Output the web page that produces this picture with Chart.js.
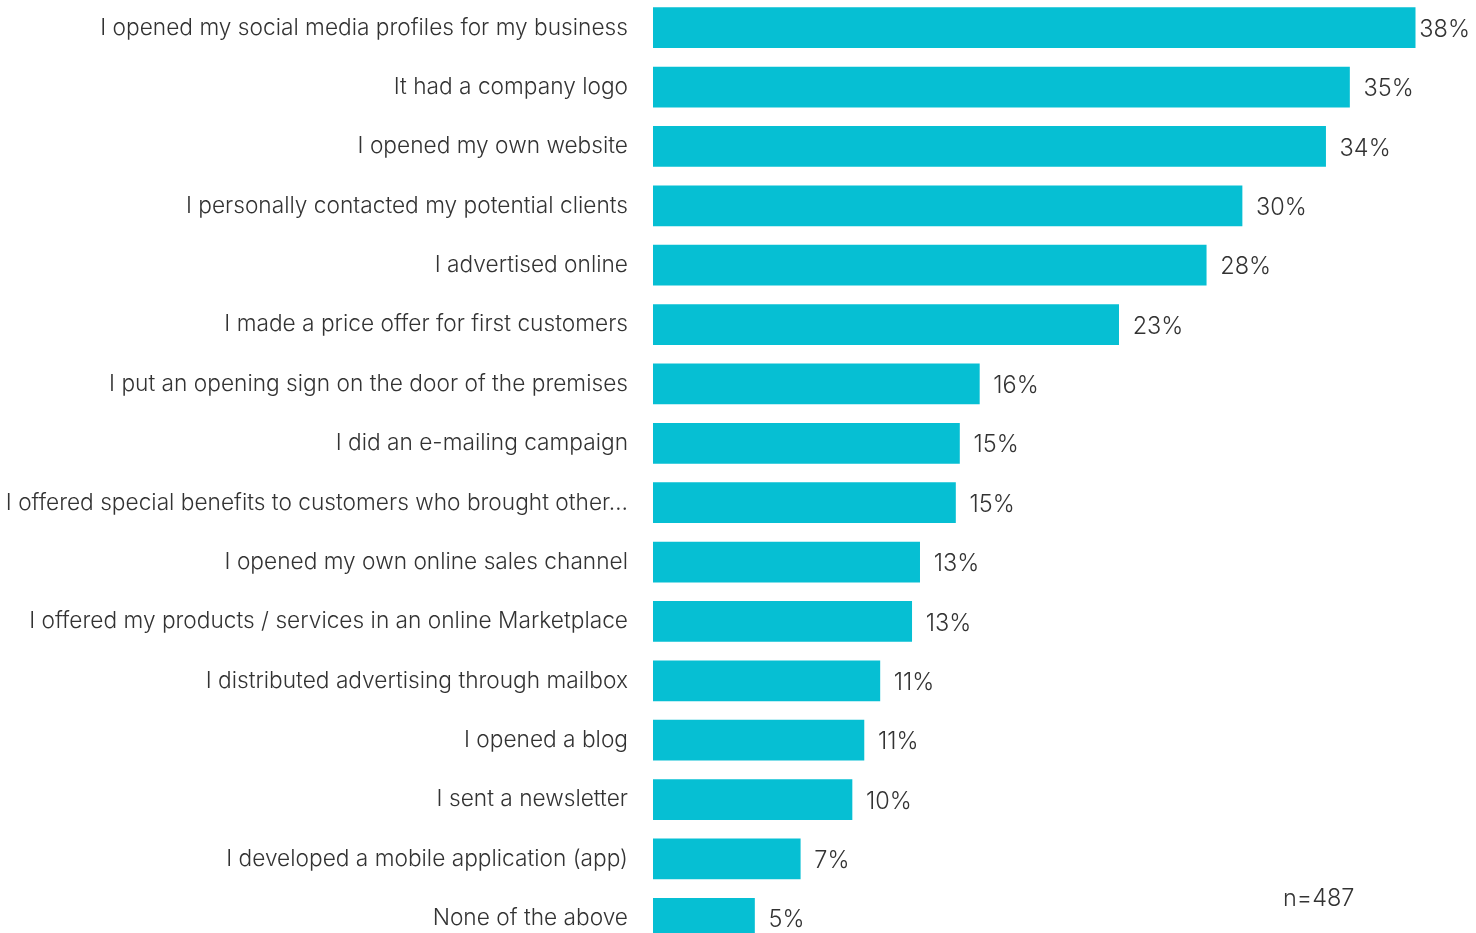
<!DOCTYPE html>
<html>
<head>
<meta charset="utf-8">
<script src="https://cdn.jsdelivr.net/npm/chart.js@4/dist/chart.umd.min.js"></script>
<style>
html,body{margin:0;padding:0;background:#fff;overflow:hidden;width:1476px;height:933px;}
#wrap{position:absolute;left:0;top:-2px;width:1476px;height:950px;}
</style>
</head>
<body>
<div id="wrap"><canvas id="c" width="1476" height="950"></canvas></div>
<script>
const categories = [
  "I opened my social media profiles for my business",
  "It had a company logo",
  "I opened my own website",
  "I personally contacted my potential clients",
  "I advertised online",
  "I made a price offer for first customers",
  "I put an opening sign on the door of the premises",
  "I did an e-mailing campaign",
  "I offered special benefits to customers who brought other…",
  "I opened my own online sales channel",
  "I offered my products / services in an online Marketplace",
  "I distributed advertising through mailbox",
  "I opened a blog",
  "I sent a newsletter",
  "I developed a mobile application (app)",
  "None of the above"
];
const values = [38.3, 35.0, 33.8, 29.6, 27.8, 23.4, 16.4, 15.4, 15.2, 13.4, 13.0, 11.4, 10.6, 10.0, 7.4, 5.1];
const sampleNote = "n=487";

const FONT = "Inter, Roboto, 'Liberation Sans', sans-serif";
const TEXT = "#333333";
const FSIZE = 22.7;

const valueLabels = {
  id: 'valueLabels',
  afterDatasetsDraw(chart) {
    const ctx = chart.ctx;
    const meta = chart.getDatasetMeta(0);
    ctx.save();
    ctx.font = "300 23.5px " + FONT;
    ctx.fillStyle = TEXT;
    ctx.textBaseline = 'middle';
    ctx.textAlign = 'left';
    meta.data.forEach((bar, i) => {
      const txt = Math.round(values[i]) + '%';
      const w = ctx.measureText(txt).width;
      const x = Math.min(bar.x + 14, chart.width - 6 - w);
      ctx.fillText(txt, x, bar.y + 2);
    });
    const yLast = meta.data[meta.data.length - 1].y;
    ctx.fillText(sampleNote, 1283, yLast - 19);
    ctx.restore();
  }
};

new Chart(document.getElementById('c'), {
  type: 'bar',
  data: {
    labels: categories,
    datasets: [{
      data: values,
      backgroundColor: '#06bfd3',
      borderWidth: 0,
      barThickness: 40
    }]
  },
  options: {
    indexAxis: 'y',
    responsive: false,
    animation: false,
    layout: { padding: { left: 0, right: 27, top: 0, bottom: 0 } },
    plugins: { legend: { display: false }, tooltip: { enabled: false } },
    scales: {
      x: {
        min: 0, max: 40,
        display: false,
        grid: { display: false }
      },
      y: {
        grid: { display: false, drawTicks: false },
        border: { display: false },
        afterFit(scale) {
          scale.width = 653;
          scale.paddingTop = 0;
          scale.paddingBottom = 0;
        },
        ticks: {
          padding: 25,
          color: TEXT,
          font: { family: FONT, size: FSIZE, weight: 300 },
          autoSkip: false
        }
      }
    }
  },
  plugins: [valueLabels]
});
</script>
</body>
</html>
